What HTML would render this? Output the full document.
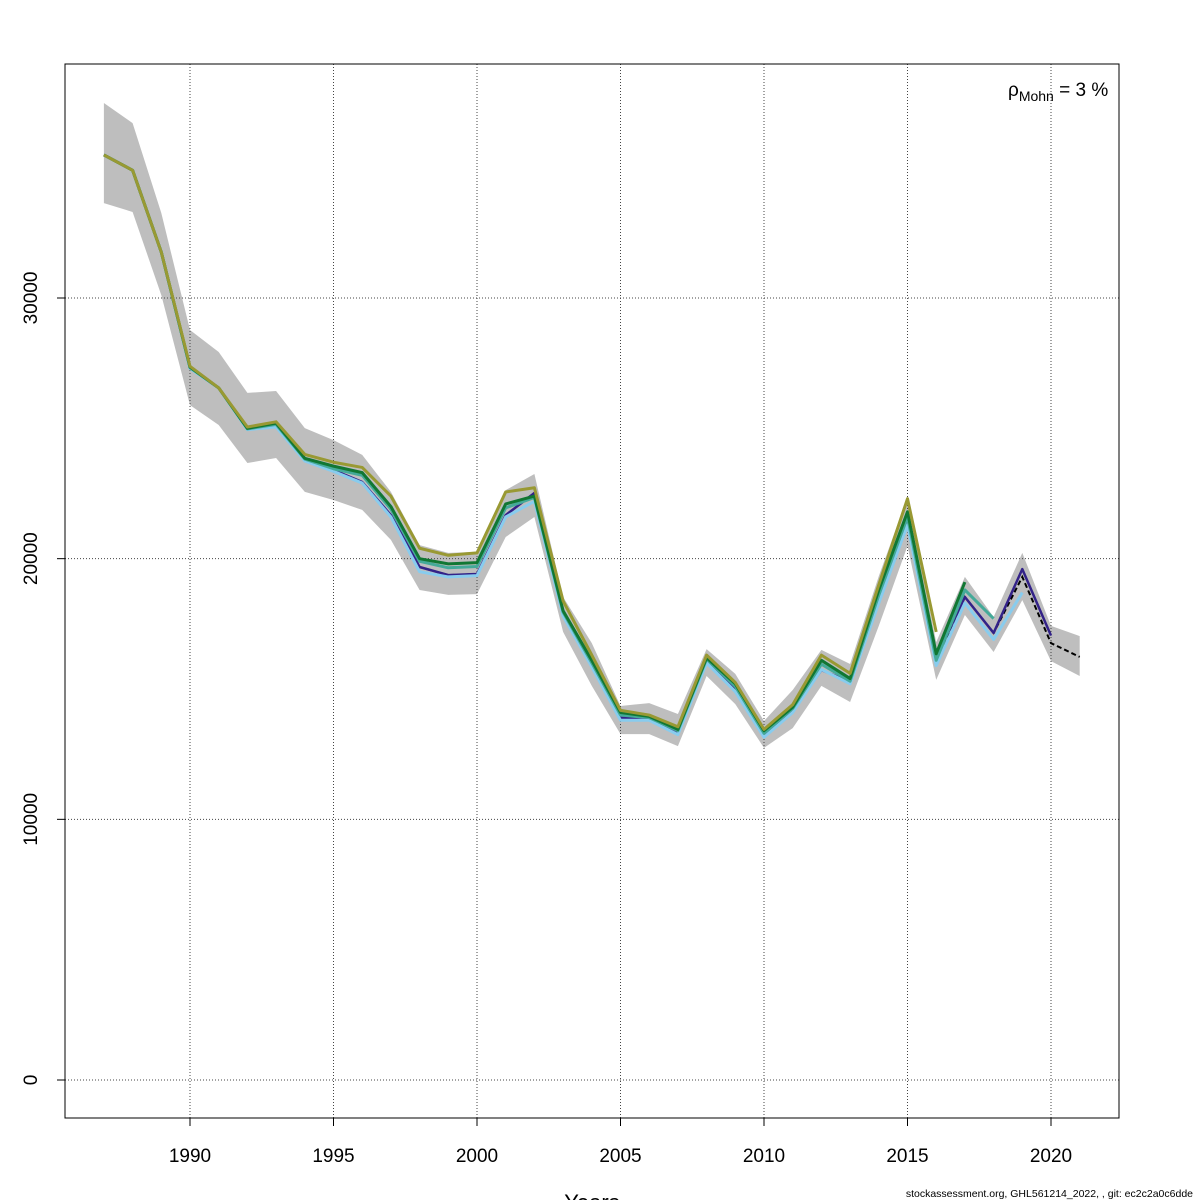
<!DOCTYPE html>
<html><head><meta charset="utf-8"><style>
body{margin:0;background:#fff}
svg{display:block;font-family:"Liberation Sans",Arial,sans-serif}
</style></head><body>
<svg id="chart" width="1200" height="1200" viewBox="0 0 1200 1200">
<rect x="0" y="0" width="1200" height="1200" fill="#fff"/>
<g id="band"></g>
<g id="grid"></g>
<g id="lines"></g>
<rect x="65" y="64" width="1054" height="1054" fill="none" stroke="#000" stroke-width="1"/>
<g id="axes"></g>
<text x="1008" y="96" font-size="19">ρ<tspan font-size="14" dy="5">Mohn</tspan><tspan dy="-5"> = 3 %</tspan></text>
<text x="592" y="1210" font-size="22" text-anchor="middle">Years</text>
<text x="1193" y="1197" font-size="10.5" text-anchor="end">stockassessment.org, GHL561214_2022,  , git: ec2c2a0c6dde</text>
</svg>
<script>
const years=[1987,1988,1989,1990,1991,1992,1993,1994,1995,1996,1997,1998,1999,2000,2001,2002,2003,2004,2005,2006,2007,2008,2009,2010,2011,2012,2013,2014,2015,2016,2017,2018,2019,2020,2021];
const bandUpper=[37480,36710,33260,28770,27930,26360,26430,25010,24550,23980,22560,20520,20220,20260,22630,23250,18530,16760,14350,14460,14040,16530,15580,13770,14960,16500,15960,19330,22370,16800,19300,17760,20220,17420,17030];
const bandLower=[33640,33300,30110,25890,25130,23670,23860,22560,22250,21870,20720,18800,18610,18640,20830,21600,17190,15120,13270,13270,12810,15500,14420,12740,13500,15120,14500,17420,20490,15350,17840,16420,18410,16070,15500];
const base=[35490,34900,31760,27310,26550,25010,25100,23790,23400,22940,21670,19680,19370,19410,21670,22520,17840,15920,13890,13890,13350,16110,14960,13240,14190,15730,15270,18410,21480,16100,18530,17150,19300,16760,16230];
const peelNavy=[35490,34900,31760,27310,26550,25010,25100,23790,23400,22940,21670,19680,19370,19410,21670,22520,17840,15920,13890,13890,13350,16110,14960,13240,14190,15730,15270,18410,21480,16200,18530,17150,19600,17050];
const peelLightBlue=[35490,34900,31760,27300,26550,24950,25050,23750,23350,22900,21600,19500,19300,19350,21600,22200,17800,15850,13800,13800,13250,16000,14900,13150,14100,15750,15200,18300,21300,15900,18300,16900,18700];
const peelTeal=[35490,34900,31760,27330,26550,24980,25150,23820,23450,23200,21900,19900,19650,19700,21950,22350,17950,16000,14000,13900,13400,16150,15100,13300,14250,15950,15300,18600,21600,16100,18800,17700];
const peelGreen=[35490,34900,31760,27350,26550,25000,25200,23850,23550,23300,22000,20000,19800,19850,22100,22400,18000,16100,14100,13950,13450,16200,15200,13400,14300,16100,15400,18800,21800,16350,19100];
const peelOlive=[35490,34900,31760,27380,26550,25050,25250,24000,23700,23500,22400,20400,20130,20220,22560,22720,18380,16300,14180,14000,13550,16300,15250,13450,14400,16300,15600,19000,22300,17190];
const xTicks=[1990,1995,2000,2005,2010,2015,2020];
const yTicks=[0,10000,20000,30000];

const NS="http://www.w3.org/2000/svg";
const xS=y=>190+(y-1990)*(1051-190)/30;
const yS=v=>1080-v*(1080-298)/30000;
function mk(tag,attrs,parent){const e=document.createElementNS(NS,tag);for(const k in attrs)e.setAttribute(k,attrs[k]);parent.appendChild(e);return e;}
const band=document.getElementById('band'),grid=document.getElementById('grid'),lines=document.getElementById('lines'),axes=document.getElementById('axes');

let pts=years.map((y,i)=>xS(y)+','+yS(bandUpper[i]));
for(let i=years.length-1;i>=0;i--)pts.push(xS(years[i])+','+yS(bandLower[i]));
const poly=mk('polygon',{points:pts.join(' '),fill:'#bebebe'},band);



xTicks.forEach(t=>{
  const l=mk('line',{x1:xS(t),x2:xS(t),y1:64,y2:1118,stroke:'#444','stroke-dasharray':'1,2','stroke-width':1},grid);
  
  
  const tk=mk('line',{x1:xS(t),x2:xS(t),y1:1118,y2:1126,stroke:'#000'},axes);
  
  
  const tx=mk('text',{x:xS(t),y:1162,'font-size':19,'text-anchor':'middle'},axes);
  tx.textContent=t;
  
  
});
yTicks.forEach(t=>{
  const l=mk('line',{x1:65,x2:1119,y1:yS(t),y2:yS(t),stroke:'#444','stroke-dasharray':'1,2','stroke-width':1},grid);
  
  
  const tk=mk('line',{x1:57,x2:65,y1:yS(t),y2:yS(t),stroke:'#000'},axes);
  
  
  const tx=mk('text',{x:0,y:0,'font-size':19,'text-anchor':'middle',transform:`translate(37,${yS(t)}) rotate(-90)`},axes);
  tx.textContent=t;
  
  
});
mk('line',{x1:xS(1990),x2:xS(2020),y1:1118,y2:1118,stroke:'#000'},axes);
mk('line',{x1:65,x2:65,y1:yS(0),y2:yS(30000),stroke:'#000'},axes);

const b=mk('polyline',{points:base.map((v,i)=>xS(years[i])+','+yS(v)).join(' '),fill:'none',stroke:'#000','stroke-width':2,'stroke-dasharray':'5,3'},lines);



const series=[
 [peelNavy,'#332288','peel-2020-line',2.5],
 [peelLightBlue,'#88CCEE','peel-2019-line',3],
 [peelTeal,'#44AA99','peel-2018-line',3],
 [peelGreen,'#117733','peel-2017-line',3],
 [peelOlive,'#999933','peel-2016-line',3]
];
series.forEach(([vals,col,name,w])=>{
  const p=mk('polyline',{points:vals.map((v,i)=>xS(years[i])+','+yS(v)).join(' '),fill:'none',stroke:col,'stroke-width':w,'stroke-linejoin':'round'},lines);
  
  
});
</script>
</body></html>
